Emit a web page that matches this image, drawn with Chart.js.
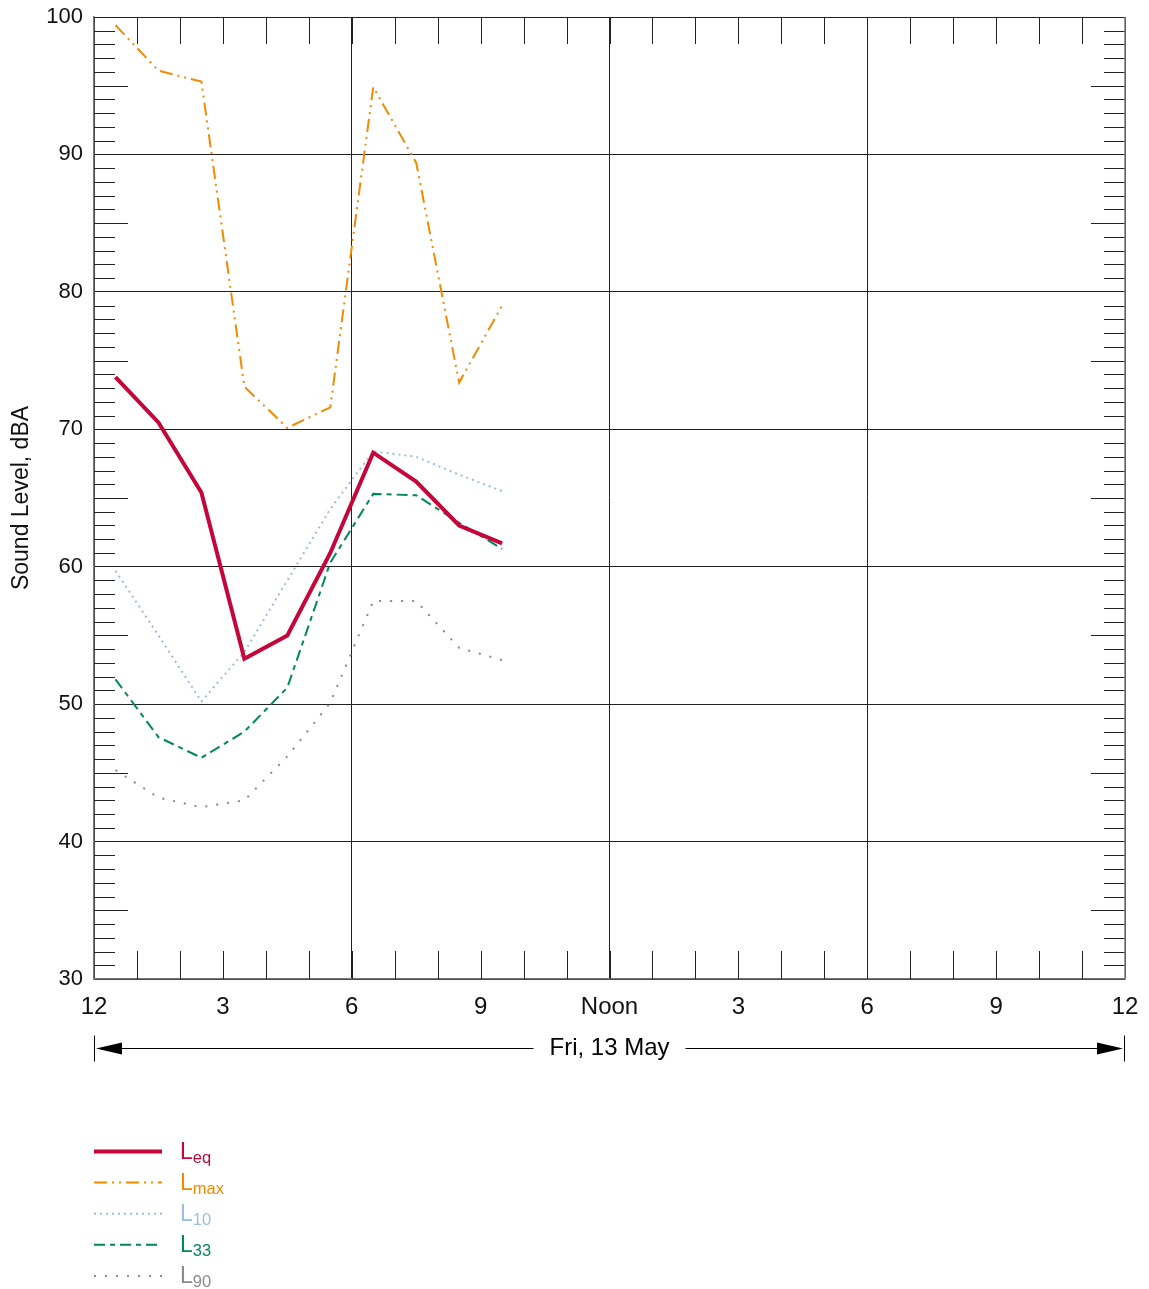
<!DOCTYPE html>
<html lang="en">
<head>
    <meta charset="UTF-8">
    <title>Sound Level, Fri 13 May</title>
    <style>
        body { margin: 0; background: #fff; }
        #wrap { width: 1149px; height: 1289px; }
    </style>
    <script src="https://cdn.jsdelivr.net/npm/chart.js"></script>
</head>
<body>
<div id="wrap"><canvas id="soundChart" width="1149" height="1289"></canvas></div>
<script>
// hours after midnight where readings were taken
const hours = [0.5, 1.5, 2.5, 3.5, 4.5, 5.5, 6.5, 7.5, 8.5, 9.5];
const leq  = [73.8, 70.5, 65.4, 53.3, 55.0, 61.0, 68.3, 66.2, 63.0, 61.7];
const lmax = [99.4, 96.1, 95.3, 73.1, 70.1, 71.6, 94.9, 89.4, 73.4, 79.0];
const l10  = [59.7, 55.0, 50.2, 53.8, 59.0, 64.2, 68.4, 68.0, 66.7, 65.5];
const l33  = [51.8, 47.6, 46.1, 48.0, 51.2, 60.3, 65.3, 65.2, 63.2, 61.3];
const l90  = [45.2, 43.2, 42.5, 43.0, 46.2, 50.1, 57.5, 57.5, 54.1, 53.2];
const hourLabels = {0: '12', 3: '3', 6: '6', 9: '9', 12: 'Noon', 15: '3', 18: '6', 21: '9', 24: '12'};
const dayLabel = 'Fri, 13 May';

const FONT = '"Liberation Sans", Arial, sans-serif';

function pts(vals) {
    return vals.map((v, i) => ({x: hours[i], y: v}));
}

const series = [
    {label: 'L', sub: 'eq',  data: leq,  color: '#c4063a', width: 4,   dash: []},
    {label: 'L', sub: 'max', data: lmax, color: '#f28a00', width: 2,   dash: [13, 5, 2, 5, 2, 5]},
    {label: 'L', sub: '10',  data: l10,  color: '#9bbde0', width: 2,   dash: [2, 4]},
    {label: 'L', sub: '33',  data: l33,  color: '#00875a', width: 2,   dash: [11, 5, 5, 5]},
    {label: 'L', sub: '90',  data: l90,  color: '#8a8a8a', width: 2,   dash: [2, 9]}
];

const decor = {
    id: 'decor',
    beforeDatasetsDraw(chart) {
        const c = chart.ctx, a = chart.chartArea;
        const xs = chart.scales.x, ys = chart.scales.y;
        c.save();
        c.lineWidth = 1;
        c.strokeStyle = '#222';
        // hourly ticks, top and bottom
        for (let h = 1; h < 24; h++) {
            const x = Math.round(xs.getPixelForValue(h)) + 0.5;
            c.beginPath();
            c.moveTo(x, a.top); c.lineTo(x, a.top + 27);
            c.moveTo(x, a.bottom); c.lineTo(x, a.bottom - 28);
            c.stroke();
        }
        // dB ticks, left and right
        for (let v = 31; v < 100; v++) {
            if (v % 10 === 0) continue;
            const y = Math.round(ys.getPixelForValue(v)) + 0.5;
            const len = v % 5 === 0 ? 34 : 21;
            c.beginPath();
            c.moveTo(a.left, y); c.lineTo(a.left + len, y);
            c.moveTo(a.right, y); c.lineTo(a.right - len, y);
            c.stroke();
        }
        // frame
        c.beginPath();
        c.moveTo(a.left, a.top + 0.5); c.lineTo(a.right, a.top + 0.5);
        c.stroke();
        c.strokeStyle = '#777';
        c.lineWidth = 1.5;
        c.beginPath();
        c.moveTo(a.right, a.top); c.lineTo(a.right, a.bottom);
        c.stroke();
        c.restore();
    },
    afterDraw(chart) {
        const c = chart.ctx, a = chart.chartArea;
        c.save();
        // date arrow row
        const ay = 1048.5;
        c.strokeStyle = '#000';
        c.fillStyle = '#000';
        c.lineWidth = 1;
        c.beginPath();
        c.moveTo(a.left + 0.5, ay - 13); c.lineTo(a.left + 0.5, ay + 13);
        c.moveTo(a.right - 0.5, ay - 13); c.lineTo(a.right - 0.5, ay + 13);
        c.stroke();
        c.font = '24px ' + FONT;
        c.textAlign = 'center';
        c.textBaseline = 'middle';
        const mid = (a.left + a.right) / 2;
        c.fillText(dayLabel, mid, ay);
        const half = c.measureText(dayLabel).width / 2 + 16;
        c.beginPath();
        c.moveTo(a.left + 10, ay); c.lineTo(mid - half, ay);
        c.moveTo(mid + half, ay); c.lineTo(a.right - 10, ay);
        c.stroke();
        c.beginPath();
        c.moveTo(a.left + 2, ay); c.lineTo(a.left + 28, ay - 6); c.lineTo(a.left + 28, ay + 6); c.closePath();
        c.moveTo(a.right - 2, ay); c.lineTo(a.right - 28, ay - 6); c.lineTo(a.right - 28, ay + 6); c.closePath();
        c.fill();

        // legend
        c.textAlign = 'left';
        c.textBaseline = 'alphabetic';
        series.forEach((s, i) => {
            const y = 1151.5 + i * 31.1;
            c.strokeStyle = s.color;
            c.lineWidth = s.width;
            c.setLineDash(s.dash);
            c.beginPath();
            c.moveTo(94, y); c.lineTo(162, y);
            c.stroke();
            c.setLineDash([]);
            c.fillStyle = s.color;
            c.font = '23px ' + FONT;
            c.fillText(s.label, 180, y + 7);
            const w = c.measureText(s.label).width;
            c.font = '16.5px ' + FONT;
            c.fillText(s.sub, 180 + w, y + 11);
        });
        c.restore();
    }
};

new Chart(document.getElementById('soundChart'), {
    type: 'line',
    data: {
        datasets: series.map(s => ({
            label: s.label + s.sub,
            data: pts(s.data),
            borderColor: s.color,
            borderWidth: s.width,
            borderDash: s.dash,
            pointRadius: 0,
            tension: 0,
            fill: false
        }))
    },
    options: {
        responsive: true,
        maintainAspectRatio: false,
        animation: false,
        layout: {padding: {top: 17, right: 24, bottom: 250, left: 0}},
        plugins: {legend: {display: false}, tooltip: {enabled: false}},
        scales: {
            x: {
                type: 'linear',
                min: 0,
                max: 24,
                afterFit: s => { s.height = 60; s.paddingLeft = 0; s.paddingRight = 0; },
                ticks: {
                    stepSize: 3,
                    autoSkip: false,
                    maxRotation: 0,
                    padding: 14,
                    color: '#111',
                    font: {family: FONT, size: 24},
                    callback: v => hourLabels[v] ?? ''
                },
                grid: {
                    drawTicks: false,
                    lineWidth: 1,
                    color: ctx => (ctx.tick && ctx.tick.value % 6 === 0) ? '#222' : 'rgba(0,0,0,0)'
                },
                border: {display: true, color: '#777', width: 1.5}
            },
            y: {
                min: 30,
                max: 100,
                afterFit: s => { s.width = 94; s.paddingTop = 0; s.paddingBottom = 0; },
                ticks: {
                    stepSize: 10,
                    padding: 11,
                    color: '#111',
                    font: {family: FONT, size: 22}
                },
                grid: {drawTicks: false, lineWidth: 1, color: '#222'},
                border: {display: true, color: '#777', width: 1.5},
                title: {
                    display: true,
                    text: 'Sound Level, dBA',
                    color: '#111',
                    font: {family: FONT, size: 23},
                    padding: {top: 8, bottom: 0}
                }
            }
        }
    },
    plugins: [decor]
});
</script>
</body>
</html>
